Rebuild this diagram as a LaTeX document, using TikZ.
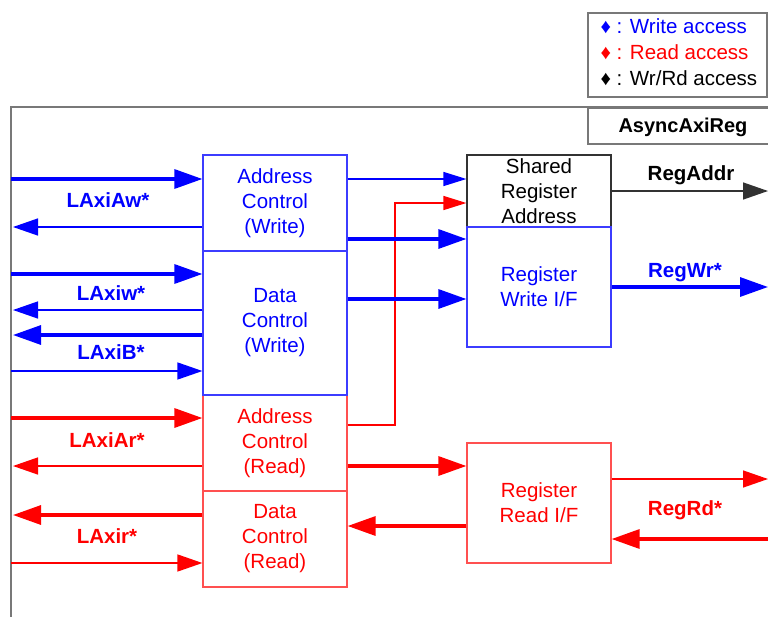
\documentclass[tikz,border=0pt]{standalone}
\usepackage{fontspec}
\setmainfont{Liberation Sans}
\usetikzlibrary{arrows.meta,calc}
\definecolor{wb}{RGB}{0,0,255}
\definecolor{rr}{RGB}{255,0,0}
\definecolor{wbbox}{RGB}{60,60,255}
\definecolor{rrbox}{RGB}{255,80,80}
\definecolor{framegray}{RGB}{120,120,120}
\definecolor{dk}{RGB}{50,50,50}
\begin{document}
\begin{tikzpicture}[x=1pt,y=-1pt,
  txt/.style={font=\fontsize{20.5}{25}\selectfont},
  lbl/.style={font=\fontsize{20.5}{25}\selectfont\bfseries,anchor=base},
  box/.style={draw,line width=1.2pt,minimum width=144pt,inner sep=0pt,align=center,txt},
  wbox/.style={box,draw=wbbox,text=wb},
  rbox/.style={box,draw=rrbox,text=rr},
  thinB/.style={line width=1.4pt,draw=wb,-{Triangle[length=25pt,width=17pt]}},
  thickB/.style={line width=3.2pt,draw=wb,-{Triangle[length=28pt,width=19pt]}},
  thinR/.style={line width=1.4pt,draw=rr,-{Triangle[length=25pt,width=17pt]}},
  thickR/.style={line width=3.2pt,draw=rr,-{Triangle[length=28pt,width=19pt]}},
  smallB/.style={line width=1.4pt,draw=wb,-{Triangle[length=23pt,width=14pt]}},
  smallR/.style={line width=1.4pt,draw=rr,-{Triangle[length=23pt,width=14pt]}},
  thinK/.style={line width=1.4pt,draw=dk,-{Triangle[length=25pt,width=17pt]}},
]
\clip (0,0) rectangle (768,616);
\fill[white] (0,0) rectangle (768,616);

% outer frame
\draw[framegray,line width=2pt] (770,107) -- (11,107) -- (11,620);
\node[draw=framegray,line width=1.5pt,minimum width=190pt,minimum height=36pt,inner sep=0pt,anchor=north west] (title) at (587,107) {};
\node[lbl,font=\fontsize{20}{25}\selectfont\bfseries] (titletxt) at (683,132) {AsyncAxiReg};

% legend
\node[draw=framegray,line width=1.5pt,minimum width=179pt,minimum height=84pt,inner sep=0pt,anchor=north west] (legend) at (587,12) {};
\node[txt,anchor=base west,text=wb] (lw) at (597,33) {♦ : Write access};
\node[txt,anchor=base west,text=rr] (lr) at (597,59) {♦ : Read access};
\node[txt,anchor=base west,text=black] (lk) at (597,85) {♦ : Wr/Rd access};

% boxes (red first, blue on top)
\node[rbox,minimum height=96pt] (acr) at (275,443) {Address\\Control\\(Read)};
\node[rbox,minimum height=96pt] (dcr) at (275,539) {Data\\Control\\(Read)};
\node[rbox,minimum height=120pt] (rri) at (539,503) {Register\\Read I/F};
\node[box,draw=dk,text=black,minimum height=72pt] (sra) at (539,191) {Shared\\Register\\Address};
\node[wbox,minimum height=96pt] (acw) at (275,203) {Address\\Control\\(Write)};
\node[wbox,minimum height=144pt] (dcw) at (275,323) {Data\\Control\\(Write)};
\node[wbox,minimum height=120pt] (rwi) at (539,287) {Register\\Write I/F};

% left free ends
\coordinate (l1) at (11,179);
\coordinate (l2) at (13,227);
\coordinate (l3) at (11,274);
\coordinate (l4) at (13,310);
\coordinate (l5) at (13,335);
\coordinate (l6) at (11,371);
\coordinate (l7) at (11,418);
\coordinate (l8) at (13,466);
\coordinate (l9) at (13,515);
\coordinate (l10) at (11,563);

\draw[thickB] (l1) -- (l1 -| acw.west);
\draw[thinB] (l2 -| acw.west) -- (l2);
\draw[thickB] (l3) -- (l3 -| dcw.west);
\draw[thinB] (l4 -| dcw.west) -- (l4);
\draw[thickB] (l5 -| dcw.west) -- (l5);
\draw[thinB] (l6) -- (l6 -| dcw.west);
\draw[thickR] (l7) -- (l7 -| acr.west);
\draw[thinR] (l8 -| acr.west) -- (l8);
\draw[thickR] (l9 -| dcr.west) -- (l9);
\draw[thinR] (l10) -- (l10 -| dcr.west);

\node[lbl,text=wb] (law) at (108,207) {LAxiAw*};
\node[lbl,text=wb] (lw2) at (111,300) {LAxiw*};
\node[lbl,text=wb] (lb) at (111,359) {LAxiB*};
\node[lbl,text=rr] (lar) at (107,447) {LAxiAr*};
\node[lbl,text=rr] (lrd) at (107,543) {LAxir*};

% middle
\coordinate (m1) at (0,179);
\coordinate (m2) at (0,239);
\coordinate (m3) at (0,299);
\coordinate (m4) at (0,466);
\coordinate (m5) at (0,526);
\coordinate (bend1) at (395,425);
\coordinate (bend2) at (395,203);
\draw[smallB] (m1 -| acw.east) -- (m1 -| sra.west);
\draw[smallR] (bend1 -| acr.east) -- (bend1) -- (bend2) -- (bend2 -| sra.west);
\draw[thickB] (m2 -| acw.east) -- (m2 -| rwi.west);
\draw[thickB] (m3 -| dcw.east) -- (m3 -| rwi.west);
\draw[thickR] (m4 -| acr.east) -- (m4 -| rri.west);
\draw[thickR] (m5 -| rri.west) -- (m5 -| dcr.east);

% right free ends
\coordinate (r1) at (768,191);
\coordinate (r2) at (768,287);
\coordinate (r3) at (768,479);
\coordinate (r4) at (768,539);
\draw[thinK] (r1 -| sra.east) -- (r1);
\draw[thickB] (r2 -| rwi.east) -- (r2);
\draw[thinR] (r3 -| rri.east) -- (r3);
\draw[thickR] (r4) -- (r4 -| rri.east);

\node[lbl,text=black] (ra) at (691,180) {RegAddr};
\node[lbl,text=wb] (rw) at (685,277) {RegWr*};
\node[lbl,text=rr] (rd) at (685,515) {RegRd*};
\end{tikzpicture}
\end{document}
